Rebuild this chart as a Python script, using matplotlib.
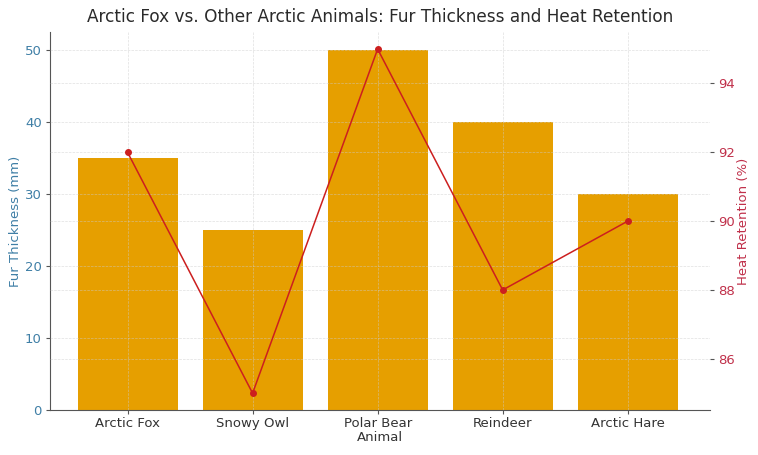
import matplotlib
matplotlib.use("Agg")
import matplotlib.pyplot as plt

animals = ["Arctic Fox", "Snowy Owl", "Polar Bear", "Reindeer", "Arctic Hare"]
fur_thickness = [35, 25, 50, 40, 30]
heat_retention = [92, 85, 95, 88, 90]

bar_color = "#E69F00"
line_color = "#CC1F1F"
left_color = "#3F7FA6"
right_color = "#C0304A"

fig, ax1 = plt.subplots(figsize=(7.58, 4.55), dpi=100)
fig.subplots_adjust(left=0.066, right=0.937, top=0.93, bottom=0.098)

ax1.bar(animals, fur_thickness, color=bar_color, width=0.8, zorder=2)
ax1.set_xlim(-0.62, 4.66)
ax1.set_ylabel("Fur Thickness (mm)", color=left_color, fontsize=9.5, labelpad=2)
ax1.set_xlabel("Animal", color="#333333", fontsize=9.5, labelpad=1)
ax1.tick_params(axis="y", labelcolor=left_color, colors="#555555", labelsize=9.5,
                length=3, pad=3)
ax1.tick_params(axis="x", labelsize=9.5, labelcolor="#333333", colors="#555555",
                length=3, pad=1.5)
for lbl in ax1.get_yticklabels():
    lbl.set_color(left_color)
ax1.grid(True, linestyle="--", linewidth=0.5, color="#cccccc", alpha=0.6, zorder=3)
ax1.set_axisbelow(False)
ax1.spines["top"].set_visible(False)
ax1.spines["right"].set_visible(False)
ax1.spines["left"].set_color("#555555")
ax1.spines["bottom"].set_color("#555555")

ax2 = ax1.twinx()
ax2.plot(animals, heat_retention, color=line_color, marker="o", markersize=4, linewidth=1.1)
ax2.set_ylabel("Heat Retention (%)", color=right_color, fontsize=9.5, labelpad=1)
ax2.tick_params(axis="y", labelcolor=right_color, colors="#555555", labelsize=9.5,
                length=3, pad=3)
for lbl in ax2.get_yticklabels():
    lbl.set_color(right_color)
ax2.grid(True, linestyle="--", linewidth=0.5, color="#cccccc", alpha=0.6)
ax2.spines["top"].set_visible(False)
ax2.spines["right"].set_visible(False)
ax2.spines["left"].set_visible(False)
ax2.spines["bottom"].set_visible(False)

ax1.set_title("Arctic Fox vs. Other Arctic Animals: Fur Thickness and Heat Retention",
              fontsize=12.2, color="#2a2a2a", pad=7)

fig.savefig("out.png", dpi=100)
